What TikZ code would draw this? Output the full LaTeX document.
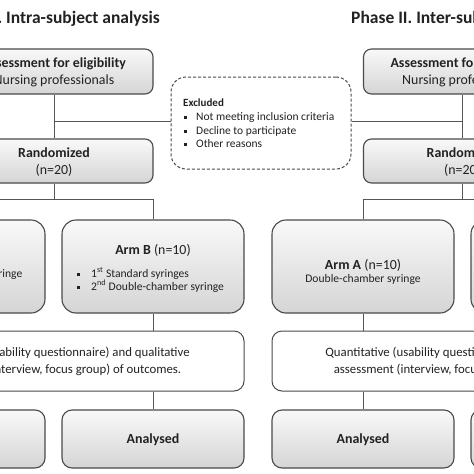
\documentclass[tikz,border=0pt]{standalone}
\usepackage{fontspec}
\setmainfont{Carlito}
\definecolor{boxline}{HTML}{4A4A4A}
\definecolor{connc}{HTML}{555555}
\definecolor{txt}{HTML}{222222}
\newcommand{\sqbul}{\rule[1.4pt]{3pt}{3pt}}
\begin{document}
\begin{tikzpicture}[x=1pt,y=-1pt,
  shadedbox/.style={draw=boxline, line width=1.1pt, top color=gray!5, bottom color=gray!33, inner sep=0pt},
  topbox/.style={shadedbox, minimum width=198pt, minimum height=45pt, rounded corners=8pt},
  armbox/.style={shadedbox, minimum width=182pt, minimum height=93pt, rounded corners=14pt},
  anbox/.style={shadedbox, minimum width=182pt, minimum height=58pt, rounded corners=10pt},
  quantbox/.style={draw=boxline, line width=1pt, fill=white, minimum width=381pt, minimum height=60pt, rounded corners=10pt, inner sep=0pt},
  exclbox/.style={draw=boxline, line width=1pt, dash pattern=on 3pt off 2pt, minimum width=180pt, minimum height=92pt, rounded corners=15pt, inner sep=0pt},
  titletext/.style={inner sep=0pt, text=txt, font=\fontsize{17.5}{20}\selectfont\bfseries},
  headtext/.style={inner sep=0pt, text=txt, font=\fontsize{13.9}{16}\selectfont\bfseries},
  subtext/.style={inner sep=0pt, text=txt, font=\fontsize{13.9}{16}\selectfont},
  bodytext/.style={inner sep=0pt, text=txt, font=\fontsize{11.6}{14}\selectfont},
  quanttext/.style={inner sep=0pt, text=txt, font=\fontsize{12.8}{15}\selectfont},
  excltext/.style={inner sep=0pt, text=txt, font=\fontsize{11.5}{14}\selectfont},
  conn/.style={draw=connc, line width=0.9pt}]
\useasboundingbox (0,0) rectangle (474,474);
\clip (0,0) rectangle (474,474);
\fill[white] (0,0) rectangle (474,474);

% titles
\node[titletext, anchor=base east] (title1) at (160,23) {Phase I. Intra-subject analysis};
\node[titletext, anchor=base west] (title2) at (351,23) {Phase II. Inter-subject analysis};

% boxes
\node[topbox] (elig1) at (54,71.5) {};
\node[topbox] (elig2) at (462.5,71.5) {};
\node[topbox, minimum height=44pt] (rand1) at (54,161) {};
\node[topbox, minimum height=44pt] (rand2) at (462.5,161) {};
\node[exclbox] (excl) at (261,123) {};
\node[armbox] (armA1) at (-46,266.5) {};
\node[armbox] (armB1) at (153,266.5) {};
\node[armbox] (armA2) at (363,266.5) {};
\node[armbox] (armB2) at (562,266.5) {};
\node[quantbox] (q1) at (53.5,361) {};
\node[quantbox] (q2) at (462.5,361) {};
\node[anbox] (anA1) at (-46,439) {};
\node[anbox] (anB1) at (153,439) {};
\node[anbox] (anA2) at (363,439) {};
\node[anbox] (anB2) at (562,439) {};

% texts
\node[headtext, anchor=base] (elig1a) at (54,67) {Assessment for eligibility};
\node[subtext, anchor=base] (elig1b) at (54,84) {Nursing professionals};
\node[headtext, anchor=base] (elig2a) at (462.5,67) {Assessment for eligibility};
\node[subtext, anchor=base] (elig2b) at (462.5,84) {Nursing professionals};
\node[headtext, anchor=base] (rand1a) at (54,157) {Randomized};
\node[subtext, anchor=base] (rand1b) at (54,174) {(n=20)};
\node[headtext, anchor=base] (rand2a) at (462.5,157) {Randomized};
\node[subtext, anchor=base] (rand2b) at (462.5,174) {(n=20)};

\node[excltext, anchor=base west, font=\fontsize{11}{13}\selectfont\bfseries] (exa) at (183,106) {Excluded};
\node[excltext, anchor=base west] (exb) at (183.5,120) {\sqbul\hspace{9.5pt}Not meeting inclusion criteria};
\node[excltext, anchor=base west] (exc) at (183.5,134) {\sqbul\hspace{9.5pt}Decline to participate};
\node[excltext, anchor=base west] (exd) at (183.5,147.5) {\sqbul\hspace{9.5pt}Other reasons};

\node[bodytext, anchor=base west] (armA1b) at (-122.5,277) {\sqbul\hspace{11.5pt}1\textsuperscript{st} Double-chamber syringe};
\node[subtext, anchor=base] (armB1a) at (153,254) {\textbf{Arm B} (n=10)};
\node[bodytext, anchor=base west] (armB1b) at (76.5,277) {\sqbul\hspace{11.5pt}1\textsuperscript{st} Standard syringes};
\node[bodytext, anchor=base west] (armB1c) at (76.5,290) {\sqbul\hspace{11.5pt}2\textsuperscript{nd} Double-chamber syringe};
\node[subtext, anchor=base] (armA2a) at (363,269) {\textbf{Arm A} (n=10)};
\node[bodytext, anchor=base] (armA2b) at (363,282.5) {Double-chamber syringe};

\node[quanttext, anchor=base] (q1a) at (53,356.5) {Quantitative (usability questionnaire) and qualitative};
\node[quanttext, anchor=base] (q1b) at (53,373.5) {assessment (interview, focus group) of outcomes.};
\node[quanttext, anchor=base] (q2a) at (462,356.5) {Quantitative (usability questionnaire) and qualitative};
\node[quanttext, anchor=base] (q2b) at (462,373.5) {assessment (interview, focus group) of outcomes.};

\node[headtext, anchor=base] (anB1t) at (153,443) {Analysed};
\node[headtext, anchor=base] (anA2t) at (363,443) {Analysed};

% connectors
\coordinate (j1) at (54,121);
\coordinate (j2) at (462.5,121);
\coordinate (s1) at (54,199.5);
\coordinate (s2) at (462.5,199.5);
\draw[conn] (elig1.south) -- (rand1.north);
\draw[conn] (elig2.south) -- (rand2.north);
\draw[conn] (j1) -- (j1 -| excl.west);
\draw[conn] (excl.east |- j2) -- (j2);
\draw[conn] (rand1.south) -- (s1);
\draw[conn] (rand2.south) -- (s2);
\draw[conn] (armA1.north) |- (s1) -| (armB1.north);
\draw[conn] (armA2.north) |- (s2) -| (armB2.north);
\draw[conn] (armA1.south) -- (armA1.south |- q1.north);
\draw[conn] (armB1.south) -- (armB1.south |- q1.north);
\draw[conn] (armA2.south) -- (armA2.south |- q2.north);
\draw[conn] (armB2.south) -- (armB2.south |- q2.north);
\draw[conn] (q1.south -| anA1.north) -- (anA1.north);
\draw[conn] (q1.south -| anB1.north) -- (anB1.north);
\draw[conn] (q2.south -| anA2.north) -- (anA2.north);
\draw[conn] (q2.south -| anB2.north) -- (anB2.north);
\end{tikzpicture}
\end{document}
